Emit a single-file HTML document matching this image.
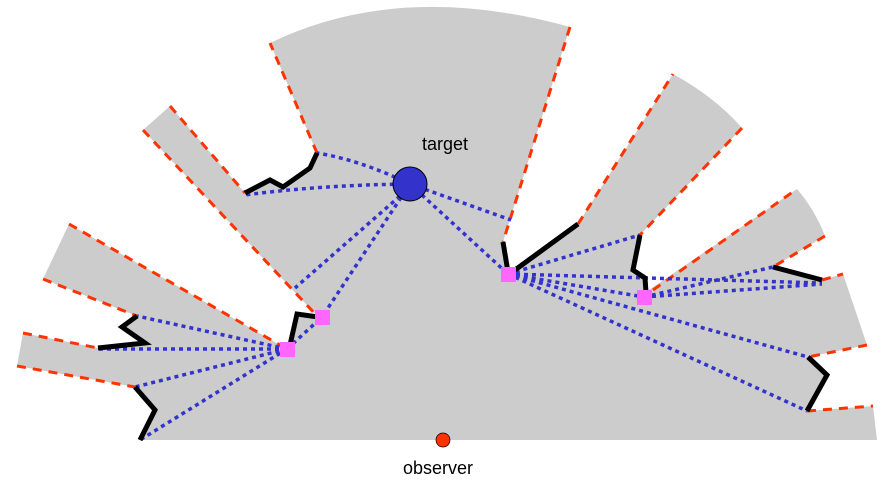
<!DOCTYPE html>
<html><head><style>body{margin:0;background:#fff}svg{display:block}</style></head><body>
<svg width="885" height="481" viewBox="0 0 885 481" xmlns="http://www.w3.org/2000/svg" font-family="Liberation Sans, sans-serif">
<path d="M138,440 L155,410 L135,387 L17,366 L23,333 L98,348 L145,343 L122,327 L137,316 L43,279 L69,224 L287,349 L297,314 L318,317 L143,130 L170,106 L245,193 L270,180 L283,187 L310,168 L317,153 L270,43 Q400,-20 570,27 L503,242 L508,272 L578,224 L673,74 Q715,97 742,128 L640,235 L633,270 L645,278 L646,292 L797,189 Q815,210 825,236 L773,267 L822,280 L843,274 L867,345 L808,357 L827,375 L807,411 L873,406 L877,440 Z" fill="#cccccc"/>
<g stroke="#ff3300" stroke-width="3" stroke-dasharray="9 7" fill="none">
<path d="M23,333 L98,348"/><path d="M17,366 L135,387"/><path d="M43,279 L137,316"/><path d="M69,224 L287,349"/>
<path d="M143,130 L318,317"/><path d="M170,106 L245,193"/><path d="M317,153 L270,43"/><path d="M570,27 L503,242"/>
<path d="M578,224 L673,74"/><path d="M742,128 L640,235"/><path d="M653,290 L797,189"/><path d="M825,236 L773,267"/>
<path d="M822,280 L843,274"/><path d="M867,345 L808,357"/><path d="M807,411 L873,406"/>
</g>
<g stroke="#3333cc" stroke-width="3.5" stroke-dasharray="4 4" fill="none">
<path d="M410,184 Q360,160 317,153"/><path d="M410,184 Q320,185 245,195"/><path d="M410,184 L322,317"/><path d="M400,196 L295,288"/>
<path d="M410,184 L508,274"/><path d="M410,184 L511,220"/>
<path d="M287,349 L137,316"/><path d="M287,349 L98,349"/><path d="M287,349 L135,387"/><path d="M287,349 L140,440"/><path d="M287,349 L322,317"/>
<path d="M508,274 L578,224"/><path d="M508,274 L640,235"/><path d="M508,274 L644,297"/><path d="M508,274 L822,283"/><path d="M508,274 L808,357"/><path d="M508,274 L807,411"/>
<path d="M644,297 L773,267"/><path d="M644,297 L822,284"/>
</g>
<g stroke="#000" stroke-width="5" fill="none" stroke-linejoin="miter">
<path d="M140,440 L155,410 L135,387"/><path d="M98,348 L145,343 L122,327 L137,316"/>
<path d="M290,345 L297,314 L318,317"/><path d="M245,193 L270,180 L283,187 L310,168 L317,153"/>
<path d="M503,242 L508,272"/><path d="M515,270 L578,224"/><path d="M640,235 L633,270 L645,278 L646,292"/>
<path d="M773,267 L822,280"/><path d="M808,357 L827,375 L807,411"/>
</g>
<rect x="280" y="342" width="15" height="15" fill="#ff66ff"/>
<rect x="315" y="310" width="15" height="15" fill="#ff66ff"/>
<rect x="501" y="267" width="15" height="15" fill="#ff66ff"/>
<rect x="637" y="290" width="15" height="15" fill="#ff66ff"/>
<circle cx="410" cy="184" r="17" fill="#3333cc" stroke="#000" stroke-width="1"/>
<circle cx="443" cy="440" r="7" fill="#ff3300" stroke="#000" stroke-width="0.7"/>
<text x="422" y="150" font-size="18">target</text>
<text x="403" y="474" font-size="18">observer</text>
</svg>
</body></html>
